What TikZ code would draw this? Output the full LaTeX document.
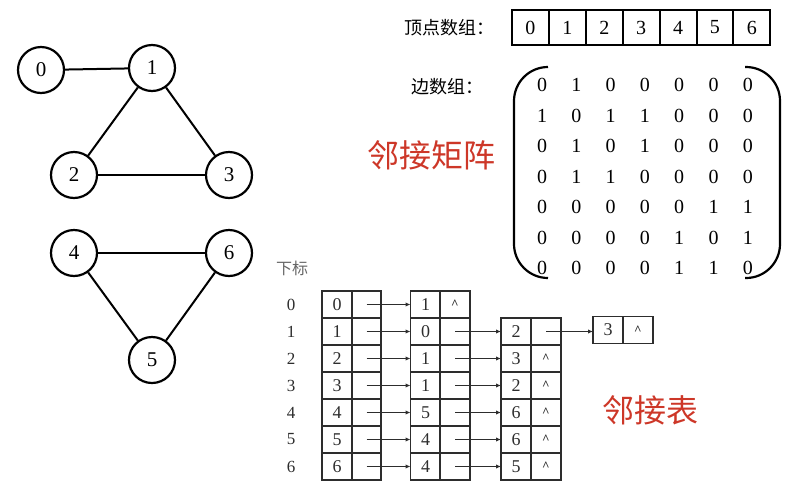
\documentclass[tikz,border=0pt]{standalone}
\usepackage{fontspec}
\setmainfont{Liberation Serif}
\newfontfamily\cjk{Noto Sans CJK SC}
\usetikzlibrary{arrows.meta}
\definecolor{redtxt}{RGB}{205,55,40}
\definecolor{listgray}{RGB}{45,45,45}
\newcommand\nullmark{{\fontsize{13}{13}\selectfont\bfseries\textasciicircum}}
\begin{document}
\begin{tikzpicture}[x=1pt,y=-1pt,
 vtx/.style={circle,draw,line width=2.2pt,minimum size=46pt,inner sep=0pt,font=\fontsize{21}{21}\selectfont},
 edge/.style={line width=2pt},
 acell/.style={draw,line width=2pt,minimum width=36.9pt,minimum height=35pt,inner sep=0pt,outer sep=0pt,font=\fontsize{20}{20}\selectfont},
 mnum/.style={font=\fontsize{20}{20}\selectfont},
 lbl/.style={font=\cjk\fontsize{18}{18}\selectfont,inner sep=0pt},
 redtitle/.style={font=\cjk\fontsize{32}{32}\selectfont,text=redtxt},
 lv/.style={draw=listgray,line width=1.6pt,minimum width=30pt,minimum height=27pt,inner sep=0pt,outer sep=0pt,text=listgray,font=\fontsize{18}{18}\selectfont},
 lp/.style={lv,minimum width=29.5pt},
 idx/.style={text=listgray,font=\fontsize{17}{17}\selectfont},
 larr/.style={line width=1.4pt,draw=listgray,-{Latex[length=5pt,width=4.5pt]}},
 paren/.style={line width=2.2pt,rounded corners=34pt},
]
\useasboundingbox (0,0) rectangle (790,488);
% graph
\node[vtx] (v0) at (41,70) {0};
\node[vtx] (v1) at (152,68) {1};
\node[vtx] (v2) at (74,175) {2};
\node[vtx] (v3) at (229,175) {3};
\node[vtx] (v4) at (74,253) {4};
\node[vtx] (v6) at (229,253) {6};
\node[vtx] (v5) at (152,360) {5};
\draw[edge] (v0) -- (v1);
\draw[edge] (v1) -- (v2);
\draw[edge] (v1) -- (v3);
\draw[edge] (v2) -- (v3);
\draw[edge] (v4) -- (v6);
\draw[edge] (v4) -- (v5);
\draw[edge] (v6) -- (v5);
% vertex array
\node[lbl,anchor=west] (vlabel) at (404,28) {顶点数组：};
\foreach \i in {0,...,6} {
  \node[acell] (a\i) at ({512+36.9*(\i+0.5)},27.5) {\i};
}
% edge matrix
\node[lbl,anchor=west] (elabel) at (411,87) {边数组：};
\foreach \row [count=\i from 0] in {{0,1,0,0,0,0,0},{1,0,1,1,0,0,0},{0,1,0,1,0,0,0},{0,1,1,0,0,0,0},{0,0,0,0,0,1,1},{0,0,0,0,1,0,1},{0,0,0,0,1,1,0}} {
  \foreach \v [count=\j from 0] in \row {
    \node[mnum] (m\i\j) at ({542+34.3*\j},{85+30.5*\i}) {\v};
  }
}
\draw[paren] (548,67) -- (514,67) -- (514,278) -- (548,278);
\draw[paren] (745,67) -- (780,67) -- (780,278) -- (745,278);
\node[redtitle] (t1) at (431,155) {邻接矩阵};
% adjacency list
\node[text=black!60,font=\cjk\fontsize{16}{16}\selectfont] (xb) at (292,268) {下标};
\foreach \i in {0,...,6} {
  \node[idx] (ix\i) at (291,{304.5+27*\i}) {\i};
  \node[lv] (c1v\i) at (337,{304.5+27*\i}) {\i};
  \node[lp] (c1p\i) at (366.5,{304.5+27*\i}) {};
}
\foreach \i/\v in {0/1,1/0,2/1,3/1,4/5,5/4,6/4} {
  \node[lv] (c2v\i) at (425.5,{304.5+27*\i}) {\v};
  \node[lp] (c2p\i) at (455,{304.5+27*\i}) {\ifnum\i=0 \nullmark\fi};
}
\foreach \i/\v in {1/2,2/3,3/2,4/6,5/6,6/5} {
  \node[lv] (c3v\i) at (516,{304.5+27*\i}) {\v};
  \node[lp] (c3p\i) at (546,{304.5+27*\i}) {\ifnum\i>1 \nullmark\fi};
}
\node[lv] (c4v) at (608,330) {3};
\node[lp] (c4p) at (638,330) {\nullmark};
\foreach \i in {0,...,6} {
  \draw[larr] (c1p\i.center) -- (c2v\i.west);
}
\foreach \i in {1,...,6} {
  \draw[larr] (c2p\i.center) -- (c3v\i.west);
}
\draw[larr] (c3p1.center) -- (c4v.west |- c3p1.center);
\node[redtitle] (t2) at (650,410) {邻接表};
\end{tikzpicture}
\end{document}
